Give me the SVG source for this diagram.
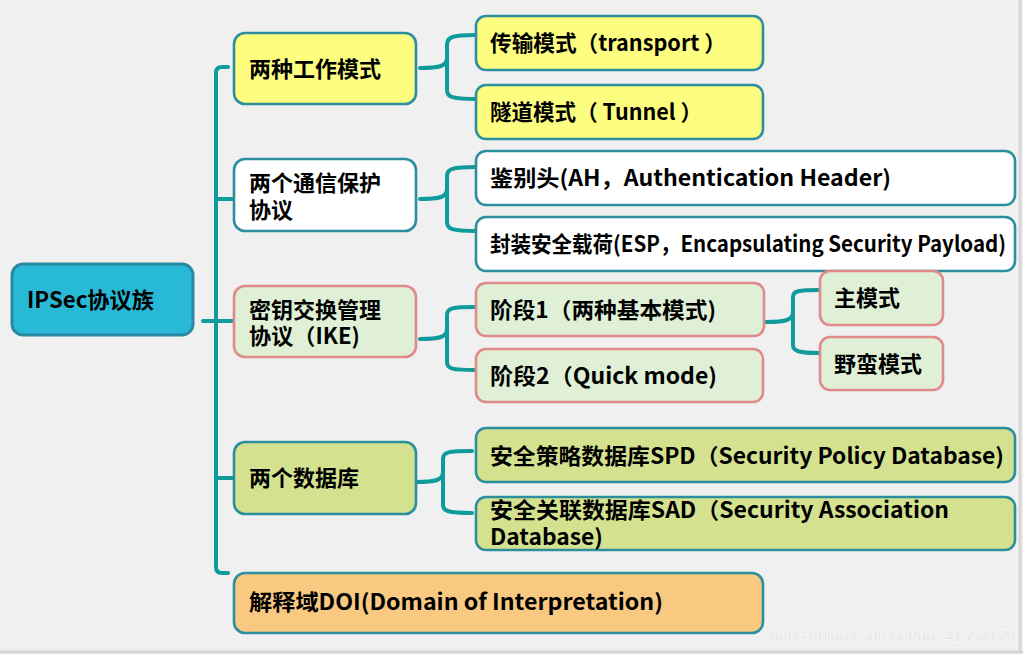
<svg xmlns="http://www.w3.org/2000/svg" width="1023" height="654" viewBox="0 0 1023 654">
<style>
.t{font-family:"Noto Sans CJK SC","Liberation Sans",sans-serif;font-weight:bold;font-size:22px;fill:#000}
.tl{stroke:#2b8fa0;stroke-width:2.6}
.pk{stroke:#e08a8a;stroke-width:2.6}
.c{fill:none;stroke:#0f9b9b;stroke-width:4;stroke-linecap:round;stroke-linejoin:round}
</style>
<rect x="0" y="0" width="1023" height="654" fill="#f0f0f0"/>
<line x1="1020" y1="0" x2="1020" y2="654" stroke="#d6d6d6" stroke-width="3"/>
<line x1="0" y1="652" x2="1023" y2="652" stroke="#d6d6d6" stroke-width="3"/>
<g id="connectors">
<path class="c" d="M228,67 L222,67 Q216,67 216,73 L216,567 Q216,573 222,573 L228,573"/>
<path class="c" d="M203,321 L233,321"/>
<path class="c" d="M216,199 L233,199"/>
<path class="c" d="M216,478 L233,478"/>
<path class="c" d="M420,68 C440,68 447,66 447,58 L447,45 C447,37 452,35 476,35 M447,58 L447,90 C447,97 452,99 476,99"/>
<path class="c" d="M420,199 C440,199 447,197 447,189 L447,176 C447,169 452,167 476,167 M447,189 L447,222 C447,229 452,231 476,231"/>
<path class="c" d="M420,339 C440,339 447,337 447,329 L447,315 C447,308 452,307 476,307 M447,329 L447,362 C447,369 452,370 476,370"/>
<path class="c" d="M766,322 C786,322 793,320 793,312 L793,297 C793,291 798,290 820,290 M793,312 L793,345 C793,351 798,353 820,353"/>
<path class="c" d="M416,482 C436,482 443,480 443,472 L443,459 C443,452 448,451 472,451 M443,472 L443,505 C443,511 448,513 472,513"/>
</g>
<g id="root">
<rect x="12" y="264" width="181" height="71" rx="11" fill="#27b9d6" stroke="#2a88a2" stroke-width="3"/>
<text class="t" x="27" y="308" textLength="127" lengthAdjust="spacingAndGlyphs">IPSec协议族</text>
</g>
<g id="n1">
<rect x="234" y="33" width="182" height="71" rx="11" fill="#fdfd80" class="tl"/>
<text class="t" x="249" y="77">两种工作模式</text>
</g>
<g id="n2">
<rect x="234" y="159" width="182" height="72" rx="11" fill="#ffffff" class="tl"/>
<text class="t"><tspan x="249" y="191">两个通信保护</tspan><tspan x="249" y="218">协议</tspan></text>
</g>
<g id="n3">
<rect x="234" y="286" width="182" height="71" rx="11" fill="#dff0d6" class="pk"/>
<text class="t"><tspan x="249" y="318">密钥交换管理</tspan><tspan x="249" y="344" textLength="111" lengthAdjust="spacingAndGlyphs">协议（IKE)</tspan></text>
</g>
<g id="n4">
<rect x="234" y="442" width="182" height="72" rx="11" fill="#d4e28f" class="tl"/>
<text class="t" x="249" y="486">两个数据库</text>
</g>
<g id="n5">
<rect x="234" y="573" width="529" height="60" rx="11" fill="#f9c982" class="tl"/>
<text class="t" x="249" y="610" textLength="414" lengthAdjust="spacingAndGlyphs">解释域DOI(Domain of Interpretation)</text>
</g>
<g id="transport">
<rect x="476" y="16" width="287" height="54" rx="10" fill="#fdfd80" class="tl"/>
<text class="t" x="490" y="51" textLength="236" lengthAdjust="spacingAndGlyphs">传输模式（transport ）</text>
</g>
<g id="tunnel">
<rect x="476" y="85" width="287" height="54" rx="10" fill="#fdfd80" class="tl"/>
<text class="t" x="490" y="120" textLength="212" lengthAdjust="spacingAndGlyphs">隧道模式（ Tunnel ）</text>
</g>
<g id="ah">
<rect x="476" y="151" width="539" height="54" rx="10" fill="#ffffff" class="tl"/>
<text class="t" x="490" y="186" textLength="401" lengthAdjust="spacingAndGlyphs">鉴别头(AH，Authentication Header)</text>
</g>
<g id="esp">
<rect x="476" y="217" width="539" height="54" rx="10" fill="#ffffff" class="tl"/>
<text class="t" x="490" y="252" textLength="516" lengthAdjust="spacingAndGlyphs">封装安全载荷(ESP，Encapsulating Security Payload)</text>
</g>
<g id="phase1">
<rect x="476" y="283" width="288" height="53" rx="10" fill="#dff0d6" class="pk"/>
<text class="t" x="490" y="318" textLength="226" lengthAdjust="spacingAndGlyphs">阶段1（两种基本模式)</text>
</g>
<g id="phase2">
<rect x="476" y="349" width="287" height="53" rx="10" fill="#dff0d6" class="pk"/>
<text class="t" x="490" y="384" textLength="227" lengthAdjust="spacingAndGlyphs">阶段2（Quick mode)</text>
</g>
<g id="main">
<rect x="820" y="271" width="123" height="54" rx="10" fill="#dff0d6" class="pk"/>
<text class="t" x="834" y="306">主模式</text>
</g>
<g id="aggressive">
<rect x="820" y="337" width="123" height="53" rx="10" fill="#dff0d6" class="pk"/>
<text class="t" x="834" y="372">野蛮模式</text>
</g>
<g id="spd">
<rect x="476" y="428" width="539" height="54" rx="10" fill="#d4e28f" class="tl"/>
<text class="t" x="490" y="464" textLength="514" lengthAdjust="spacingAndGlyphs">安全策略数据库SPD（Security Policy Database)</text>
</g>
<g id="sad">
<rect x="476" y="497" width="539" height="53" rx="10" fill="#d4e28f" class="tl"/>
<text class="t"><tspan x="490" y="518" textLength="459" lengthAdjust="spacingAndGlyphs">安全关联数据库SAD（Security Association</tspan><tspan x="490" y="545" textLength="113" lengthAdjust="spacingAndGlyphs">Database)</tspan></text>
</g>
<text x="770" y="641" font-family="Liberation Sans, Arial, sans-serif" font-size="15" textLength="245" lengthAdjust="spacingAndGlyphs" fill="#d8d8d8" stroke="#ffffff" stroke-width="0.4">https://blog.csdn.net/qq_41554179</text>
</svg>
